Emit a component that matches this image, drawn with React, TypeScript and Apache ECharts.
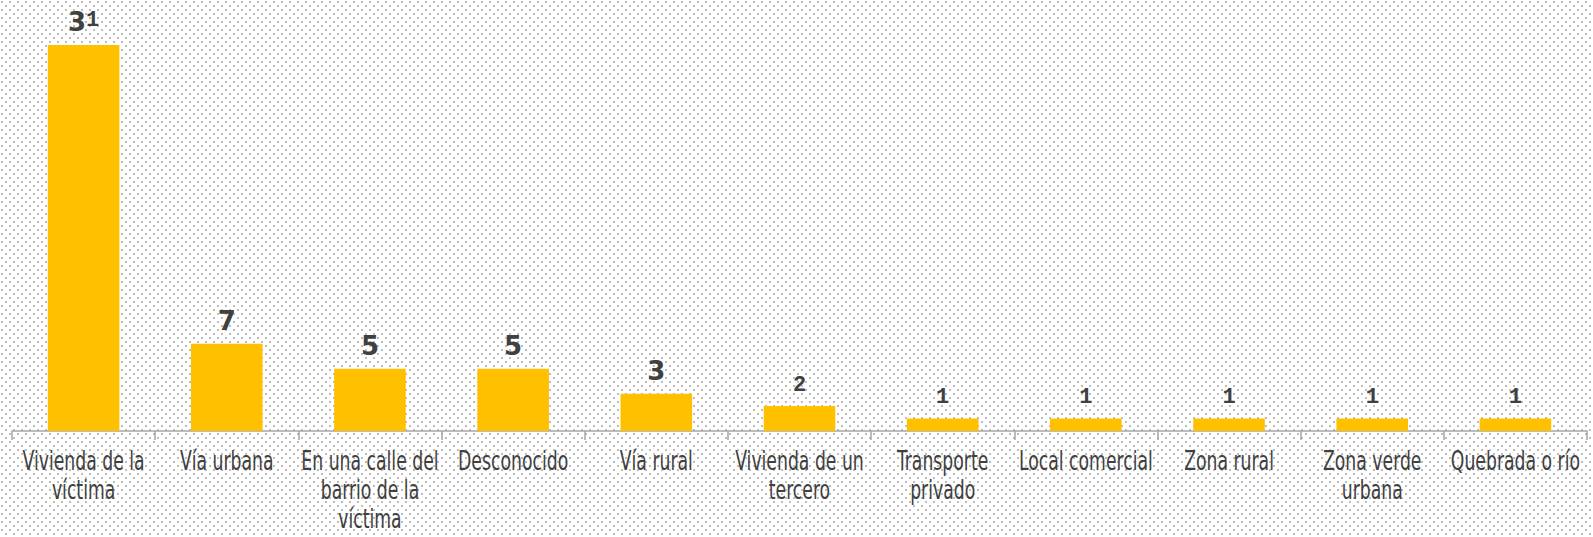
import React, { useEffect, useRef } from "react";
import * as echarts from "echarts";

const categories = [
  "Vivienda de la\nvíctima",
  "Vía urbana",
  "En una calle del\nbarrio de la\nvíctima",
  "Desconocido",
  "Vía rural",
  "Vivienda de un\ntercero",
  "Transporte\nprivado",
  "Local comercial",
  "Zona rural",
  "Zona verde\nurbana",
  "Quebrada o río",
];
const values = [31, 7, 5, 5, 3, 2, 1, 1, 1, 1, 1];

const dots =
  "url(\"data:image/svg+xml;utf8,<svg xmlns='http://www.w3.org/2000/svg' width='8' height='8'><rect x='1' y='1' width='2' height='2' fill='%23bdbdbd'/><rect x='5' y='5' width='2' height='2' fill='%23bdbdbd'/></svg>\")";

const labelFont = "'DejaVu Sans Condensed', 'DejaVu Sans', sans-serif";

export default function App() {
  const ref = useRef<HTMLDivElement>(null);
  useEffect(() => {
    document.body.style.margin = "0";
    if (!ref.current) return;
    const chart = echarts.init(ref.current, undefined, { renderer: "svg" });
    chart.setOption({
      animation: false,
      grid: { left: 12, right: 6, top: 45, bottom: 106, containLabel: false },
      xAxis: {
        type: "category",
        data: categories,
        boundaryGap: true,
        axisLine: { lineStyle: { color: "#a6a6a6", width: 1.5 } },
        axisTick: { show: true, length: 9, alignWithLabel: false, lineStyle: { color: "#a6a6a6", width: 1.5 } },
        axisLabel: { show: false },
      },
      yAxis: {
        type: "value",
        min: 0,
        max: 31,
        show: false,
        splitLine: { show: false },
      },
      series: [
        {
          type: "bar",
          data: values,
          barWidth: "50%",
          itemStyle: { color: "#FFC000" },
          label: {
            show: true,
            position: "top",
            distance: 10,
            formatter: (p: any) =>
              String(p.value)
                .split("")
                .map((c) => (c === "1" || c === "2" ? `{s|${c}}` : `{b|${c}}`))
                .join(""),
            rich: {
              b: { fontFamily: "'DejaVu Sans', sans-serif", fontWeight: "bold", fontSize: 26, color: "#404040" },
              s: { fontFamily: "'Liberation Mono', monospace", fontWeight: "bold", fontSize: 22, color: "#404040", verticalAlign: "top" },
            },
          },
        },
      ],
    });
    const y0 = chart.convertToPixel({ yAxisIndex: 0 }, 0) as number;
    chart.setOption({
      graphic: categories.map((c, i) => ({
        type: "text",
        x: chart.convertToPixel({ xAxisIndex: 0 }, i) as number,
        y: y0 + 15,
        scaleX: 0.71,
        silent: true,
        style: {
          text: c,
          fontFamily: labelFont,
          fontSize: 27,
          lineHeight: 29,
          fill: "#404040",
          textAlign: "center",
          align: "center",
          textVerticalAlign: "top",
          verticalAlign: "top",
        },
      })),
    });
    return () => chart.dispose();
  }, []);
  return <div ref={ref} style={{ width: 1593, height: 537, backgroundImage: dots, backgroundColor: "#ffffff" }} />;
}
